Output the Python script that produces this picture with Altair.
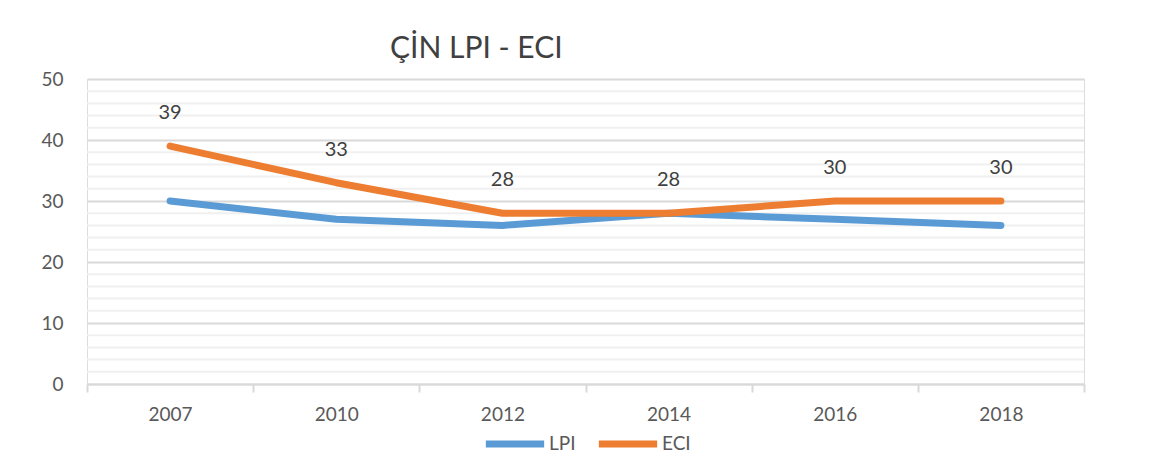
import altair as alt
import pandas as pd

years = ["2007", "2010", "2012", "2014", "2016", "2018"]
lpi = [30, 27, 26, 28, 27, 26]
eci = [39, 33, 28, 28, 30, 30]
series_names = ["LPI", "ECI"]
colors = ["#5b9bd5", "#ed7d31"]
major_ticks = [0, 10, 20, 30, 40, 50]
minor_ticks = [v for v in range(0, 51, 2) if v % 10 != 0]

rows = []
for name, vals in zip(series_names, [lpi, eci]):
    for yr, v in zip(years, vals):
        rows.append({"year": yr, "series": name, "value": v})
df = pd.DataFrame(rows)
minor_df = pd.DataFrame({"value": minor_ticks})

FONT = "Lato"

x = alt.X("year:N", sort=years, title=None,
          scale=alt.Scale(paddingInner=0, paddingOuter=0),
          axis=alt.Axis(labelAngle=0, labelFontSize=19, labelColor="#595959",
                        labelPadding=13, tickBand="extent", tickSize=8,
                        tickColor="#d9d9d9", domainColor="#d9d9d9", domainWidth=2,
                        tickWidth=2, grid=False, labelFont=FONT))
y_scale = alt.Scale(domain=[0, 50], nice=False)
y_axis = alt.Axis(values=major_ticks, domain=False, ticks=False,
                  labelOverlap=False, labelFontSize=19, labelColor="#595959",
                  labelPadding=24, labelFont=FONT,
                  gridColor="#d9d9d9", gridWidth=2)

minor = alt.Chart(minor_df).mark_rule(color="#f0f0f0", strokeWidth=2).encode(
    y=alt.Y("value:Q", title=None, scale=y_scale, axis=y_axis)
)

lines = alt.Chart(df).mark_line(strokeWidth=7, strokeCap="round", strokeJoin="round").encode(
    x=x, y=alt.Y("value:Q", title=None, scale=y_scale, axis=y_axis),
    color=alt.Color("series:N", scale=alt.Scale(domain=series_names, range=colors),
                    legend=alt.Legend(title=None, orient="none", direction="horizontal",
                                      legendX=395, legendY=332, symbolType="stroke",
                                      symbolSize=3400, symbolStrokeWidth=7,
                                      labelFontSize=19, labelColor="#595959",
                                      labelFont=FONT, columnPadding=8, labelOffset=1)),
)

labels = alt.Chart(df).transform_filter(alt.datum.series == "ECI").mark_text(
    dy=-33, fontSize=20, color="#404040", font=FONT
).encode(x=alt.X("year:N", sort=years), y=alt.Y("value:Q", scale=y_scale), text="value:Q")

chart = alt.layer(minor, lines, labels).properties(
    width=997, height=305,
    title=alt.Title("ÇİN LPI - ECI", anchor="start", frame="group", dx=303, offset=6,
                    fontSize=30, font=FONT, fontWeight="normal", color="#404040"),
    autosize=alt.AutoSizeParams(type="none"),
    padding={"left": 79, "top": 71, "right": 69, "bottom": 72},
).configure_view(stroke=None).configure(background="white")

chart.save("out.html", embed_options={"renderer": "svg", "actions": False})
